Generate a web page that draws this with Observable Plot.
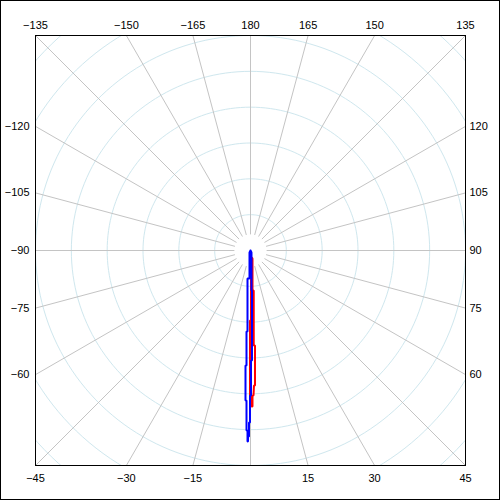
<!DOCTYPE html>
<html>
<head>
<meta charset="utf-8">
<script src="https://cdn.jsdelivr.net/npm/d3@7"></script>
<script src="https://cdn.jsdelivr.net/npm/@observablehq/plot@0.6"></script>
<style>
  html, body { margin: 0; padding: 0; background: #fff; }
  #chart { width: 500px; height: 500px; }
</style>
</head>
<body>
<div id="chart"></div>
<script>
// Polar data: angle in degrees (0 = down, 90 = right, 180 = up), radius in grid units (10 per ring)
const blueAngle = [0, 26.57, 1.43, 2.15, 0.78, 0.26, 0.20, -0.20, -0.17, -0.50, -0.46, -0.77, -0.75,
  -0.90, -0.95, -1.27, -1.53, -1.91, -2.49, -1.99, -2.83, -2.12, -6.12, -2.05, -26.57, 0];
const blueR = [0, 0.62, 11.17, 11.17, 30.70, 30.70, 40.47, 40.47, 48.00, 48.01, 51.91, 51.92, 53.31,
  53.31, 50.24, 50.25, 41.88, 41.89, 32.13, 32.12, 22.63, 22.62, 7.86, 7.82, 0.62, 0];
const redAngle = [8.13, 14.04, 2.86, 4.60, 1.95, 2.71, 1.91, 1.48, 1.19, 0.79, 0.73, 0.37, 0.40,
  -0.20, -0.41, 0.41, 2.39, 8.13];
const redR = [1.97, 2.30, 11.18, 11.19, 26.53, 26.54, 37.69, 37.69, 40.48, 40.47, 43.54, 43.54, 40.47,
  40.47, 19.54, 19.54, 3.35, 1.97];

const ringValues = [10, 20, 30, 40, 50, 60, 70, 80];
const spokeAngles = [-165, -150, -135, -120, -105, -90, -75, -60, -45, -30, -15, 0,
  15, 30, 45, 60, 75, 90, 105, 120, 135, 150, 165, 180];
const topLabels = [-135, -150, -165, 180, 165, 150, 135];
const bottomLabels = [-45, -30, -15, 15, 30, 45];
const leftLabels = [-120, -105, -90, -75, -60];
const rightLabels = [120, 105, 90, 75, 60];

const R = 60; // half-width of the frame in grid units
const rad = Math.PI / 180;
const px = (a, r) => r * Math.sin(a * rad);
const py = (a, r) => r * Math.cos(a * rad);
const fmt = v => String(v).replace("-", "\u2212");

const toXY = (angles, radii) => angles.map((a, i) => ({x: px(a, radii[i]), y: py(a, radii[i])}));
const blue = toXY(blueAngle, blueR);
const red = toXY(redAngle, redR);

const rings = ringValues.flatMap(r => d3.range(0, 361, 2).map(a => ({ring: r, x: px(a, r), y: py(a, r)})));
const spokes = spokeAngles.map(a => ({x1: px(a, 4.5), y1: py(a, 4.5), x2: px(a, 95), y2: py(a, 95)}));

const topT = topLabels.map(a => ({label: fmt(a), x: -R * Math.tan(a * rad), y: -R}));
const botT = bottomLabels.map(a => ({label: fmt(a), x: R * Math.tan(a * rad), y: R}));
const leftT = leftLabels.map(a => ({label: fmt(a), x: -R, y: -R / Math.tan(a * rad)}));
const rightT = rightLabels.map(a => ({label: fmt(a), x: R, y: R / Math.tan(a * rad)}));

const font = "'Liberation Sans', Arial, sans-serif";

const chart = Plot.plot({
  width: 500,
  height: 500,
  marginTop: 35, marginBottom: 35, marginLeft: 35, marginRight: 35,
  x: {domain: [-R, R], axis: null},
  y: {domain: [-R, R], reverse: true, axis: null},
  style: {fontFamily: font, fontSize: "11px", background: "#fff", overflow: "visible"},
  marks: [
    Plot.line(rings, {x: "x", y: "y", z: "ring", stroke: "#cfe7ee", strokeWidth: 1, clip: true}),
    Plot.link(spokes, {x1: "x1", y1: "y1", x2: "x2", y2: "y2", stroke: "#c4c4c4", strokeWidth: 1, clip: true}),
    Plot.line(red, {x: "x", y: "y", stroke: "#ff0000", strokeWidth: 2, strokeLinejoin: "miter"}),
    Plot.line(blue, {x: "x", y: "y", stroke: "#0000ff", strokeWidth: 2, strokeLinejoin: "miter"}),
    Plot.frame({stroke: "#000", strokeWidth: 1}),
    Plot.text(topT, {x: "x", y: "y", text: "label", dy: -10, fill: "#000", fontSize: 11}),
    Plot.text(botT, {x: "x", y: "y", text: "label", dy: 13, fill: "#000", fontSize: 11}),
    Plot.text(leftT, {x: "x", y: "y", text: "label", dx: -6, textAnchor: "end", fill: "#000", fontSize: 11}),
    Plot.text(rightT, {x: "x", y: "y", text: "label", dx: 4, textAnchor: "start", fill: "#000", fontSize: 11})
  ]
});

d3.select(chart).append("rect")
  .attr("x", 0.5).attr("y", 0.5).attr("width", 499).attr("height", 499)
  .attr("fill", "none").attr("stroke", "#000").attr("stroke-width", 1);

document.getElementById("chart").appendChild(chart);
</script>
</body>
</html>
